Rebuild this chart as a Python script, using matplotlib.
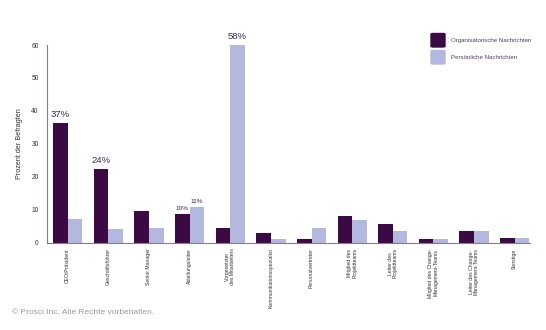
import matplotlib
matplotlib.use("Agg")
import matplotlib.pyplot as plt
import numpy as np
from matplotlib.patches import FancyBboxPatch

plt.rcParams["font.family"] = ["Liberation Sans", "DejaVu Sans"]

categories = ["CEO/Präsident", "Geschäftsführer", "Senior Manager", "Abteilungsleiter",
              "Vorgesetzter\ndes Mitarbeiters", "Kommunikationsspezialist", "Personalvertreter",
              "Mitglied des\nProjektteams", "Leiter des\nProjektteams",
              "Mitglied des Change-\nManagement-Teams", "Leiter des Change-\nManagement-Teams",
              "Sonstige"]
org = [36.3, 22.3, 9.6, 8.8, 4.4, 2.9, 1.1, 8.1, 5.8, 1.1, 3.5, 1.4]
pers = [7.1, 4.1, 4.4, 10.9, 60.0, 1.0, 4.4, 6.9, 3.5, 1.0, 3.5, 1.4]
series_names = ["Organisatorische Nachrichten", "Persönliche Nachrichten"]
# annotations: (category index, series index, label)
annotations = [(0, 0, "37%"), (1, 0, "24%"), (3, 0, "10%"), (3, 1, "11%"), (4, 1, "58%")]

dark = "#3B0A45"
light = "#B3B8DF"

fig = plt.figure(figsize=(5.46, 3.30), dpi=100)
ax = fig.add_axes([0.086, 0.2645, 0.885, 0.599])

x = np.arange(len(categories))
w = 0.36
ax.bar(x - w/2, org, width=w, color=dark, label=series_names[0])
ax.bar(x + w/2, pers, width=w, color=light, label=series_names[1])

ax.set_xlim(-0.51, 11.38)
ax.set_ylim(0, 60)
ax.set_yticks(range(0, 61, 10))
ax.tick_params(axis="y", length=0, labelsize=4.8, labelcolor="#333333", pad=6)
ax.set_xticks(x)
ax.set_xticklabels(categories, rotation=90, fontsize=3.7, color="#333333",
                   va="top", ha="center", linespacing=1.0)
ax.tick_params(axis="x", length=0, pad=4)
for s in ["top", "right"]:
    ax.spines[s].set_visible(False)
for s in ["left", "bottom"]:
    ax.spines[s].set_color("#8a7a90")
    ax.spines[s].set_linewidth(0.8)

ax.set_ylabel("Prozent der Befragten", fontsize=5.2, color="#333333", labelpad=6)

for ci, si, lab in annotations:
    vals = org if si == 0 else pers
    xpos = ci - w/2 if si == 0 else ci + w/2
    big = lab in ("37%", "24%", "58%")
    ax.annotate(lab, (xpos, vals[ci]), xytext=(0, 3 if big else 2), textcoords="offset points",
                ha="center", va="bottom", fontsize=6.8 if big else 4.6, color="#3a2a48")

# legend
for i, (name, col) in enumerate(zip(series_names, [dark, light])):
    y0 = 1 - (47 + i * 17) / 330
    sq = FancyBboxPatch((431 / 546, y0), 14 / 546, 13.5 / 330,
                        boxstyle="round,pad=0,rounding_size=0.004",
                        transform=fig.transFigure, color=col, mutation_aspect=330/546)
    fig.patches.append(sq)
    fig.text(451 / 546, y0 + 6.7 / 330, name, fontsize=4.4, color="#5a3a66", va="center", ha="left")

fig.text(12 / 546, 1 - 313 / 330, "© Prosci Inc. Alle Rechte vorbehalten.", fontsize=6,
         color="#9a9a9a", va="center", ha="left")

fig.savefig("out.png", dpi=100)
